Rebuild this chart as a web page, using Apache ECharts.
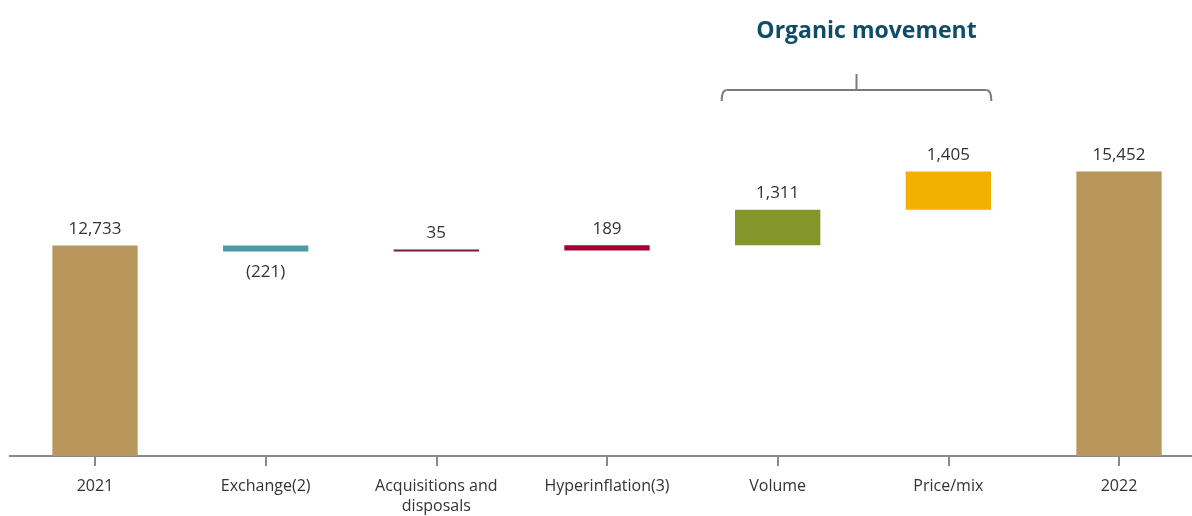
<!DOCTYPE html>
<html><head><meta charset="utf-8">
<script src="https://cdn.jsdelivr.net/npm/echarts@6/dist/echarts.min.js"></script>
<style>html,body{margin:0;padding:0;background:#fff;overflow:hidden;width:1192px;height:516px}#c{width:1206px;height:516px}</style>
</head><body><div id="c"></div>
<script>
const categories = ['2021', 'Exchange(2)', 'Acquisitions and\ndisposals', 'Hyperinflation(3)', 'Volume', 'Price/mix', '2022'];
const changes = [12733, -221, 35, 189, 1311, 1405, 15452];
const isTotal = [true, false, false, false, false, false, true];
const valueLabels = ['12,733', '(221)', '35', '189', '1,311', '1,405', '15,452'];
const barColors = ['#B9965B', '#4A9BA2', '#7A1838', '#A50034', '#84962A', '#F2B000', '#B9965B'];
const bracketTitle = 'Organic movement';
const bracketFrom = 'Volume', bracketTo = 'Price/mix';

const FONT = "'Open Sans', 'Noto Sans', sans-serif";
let running = 0;
const baseData = [], deltaData = [];
changes.forEach((v, i) => {
  if (isTotal[i]) { baseData.push(0); deltaData.push(v); running = v; }
  else if (v >= 0) { baseData.push(running); deltaData.push(v); running += v; }
  else { baseData.push(running + v); deltaData.push(-v); running += v; }
});

const chart = echarts.init(document.getElementById('c'), null, {renderer: 'canvas', width: 1206, height: 516});
chart.setOption({
  animation: false,
  grid: {left: 9.67, right: 1.66, top: 47.6, bottom: 58, containLabel: false},
  xAxis: {
    type: 'category', data: categories,
    axisLine: {lineStyle: {color: '#8a8a8a', width: 2}},
    axisTick: {show: true, length: 10, alignWithLabel: true, lineStyle: {color: '#8a8a8a', width: 2}},
    axisLabel: {color: '#333', fontFamily: FONT, fontSize: 16, margin: 20, lineHeight: 20, interval: 0}
  },
  yAxis: {type: 'value', show: false, min: 5000, max: 20000, splitLine: {show: false}},
  series: [
    {type: 'bar', stack: 'w', data: baseData, barWidth: '50%', itemStyle: {color: 'transparent'}, silent: true},
    {type: 'bar', stack: 'w', barWidth: '50%', barMinHeight: 2,
     data: deltaData.map((d, i) => ({
       value: d,
       itemStyle: {color: barColors[i]},
       label: {show: true, position: changes[i] < 0 ? 'bottom' : 'top', distance: changes[i] < 0 ? 12 : 8,
               formatter: valueLabels[i], color: '#333', fontFamily: FONT, fontSize: 17}
     }))}
  ]
});

const xa = chart.convertToPixel({xAxisIndex: 0}, bracketFrom);
const xb = chart.convertToPixel({xAxisIndex: 0}, bracketTo);
const L = xa - 56, R = xb + 43, M = (L + R) / 2;
const yLine = 90, yEnd = 101, yTop = 74, r = 5;
const stroke = {stroke: '#7a7a7a', lineWidth: 2, fill: null};
chart.setOption({
  graphic: [
    {type: 'bezierCurve', shape: {x1: L, y1: yEnd, x2: L + r, y2: yLine, cpx1: L, cpy1: yLine}, style: stroke},
    {type: 'line', shape: {x1: L + r, y1: yLine, x2: R - r, y2: yLine}, style: stroke},
    {type: 'bezierCurve', shape: {x1: R - r, y1: yLine, x2: R, y2: yEnd, cpx1: R, cpy1: yLine}, style: stroke},
    {type: 'line', shape: {x1: M, y1: yLine, x2: M, y2: yTop}, style: stroke},
    {type: 'text', x: M + 10, y: 31, style: {text: bracketTitle, fill: '#0F4C69', font: `bold 23px ${FONT}`, align: 'center', verticalAlign: 'middle'}}
  ]
});
</script></body></html>
